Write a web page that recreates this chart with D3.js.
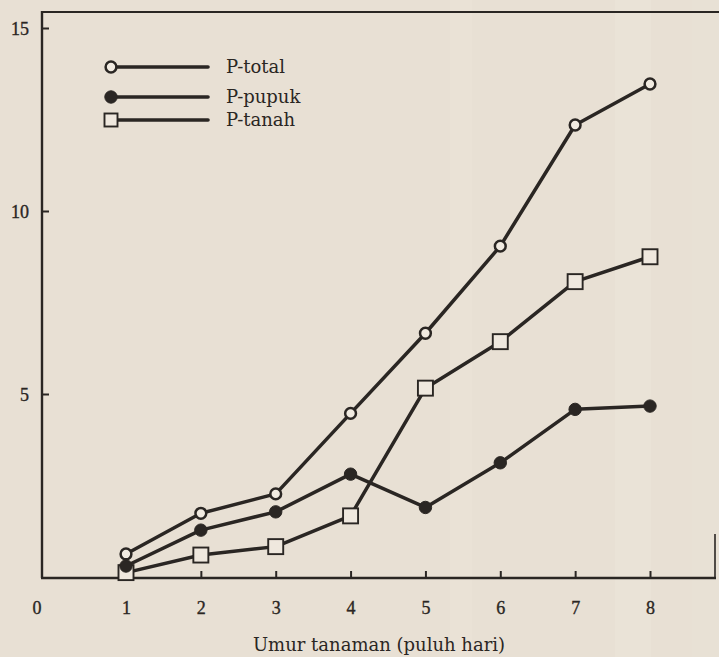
<!DOCTYPE html>
<html>
<head>
<meta charset="utf-8">
<script src="https://cdn.jsdelivr.net/npm/d3@7"></script>
<style>
  html, body { margin: 0; padding: 0; background: #e8e0d4; }
  svg { display: block; }
</style>
</head>
<body>
<svg id="chart" width="719" height="657"></svg>
<script>
// Umur tanaman (puluh hari)
const ages = [1, 2, 3, 4, 5, 6, 7, 8];
const pTotal = [0.63, 1.74, 2.27, 4.47, 6.66, 9.04, 12.35, 13.47];
const pPupuk = [0.30, 1.28, 1.78, 2.81, 1.90, 3.12, 4.58, 4.67];
const pTanah = [0.12, 0.60, 0.83, 1.67, 5.16, 6.43, 8.07, 8.75];
const xTicks = [1, 2, 3, 4, 5, 6, 7, 8];
const yTicks = [5, 10, 15];
const seriesNames = ["P-total", "P-pupuk", "P-tanah"];
const markerKinds = ["open", "filled", "square"];
const xTitle = "Umur tanaman (puluh hari)";

const ink = "#2a2623";
const paper = "#e8e0d4";
const serifTicks = "'Liberation Serif', 'Times New Roman', serif";
const serifText = "'DejaVu Serif', serif";

const svg = d3.select("#chart");
const W = 719, H = 657;

// paper tone with faint scanner banding
svg.append("rect").attr("width", W).attr("height", H).attr("fill", paper);
const bands = [[450, 22, 0.14], [615, 36, 0.16], [692, 27, 0.08]];
svg.selectAll("rect.band").data(bands).join("rect")
  .attr("class", "band")
  .attr("x", d => d[0]).attr("y", 0)
  .attr("width", d => d[1]).attr("height", H)
  .attr("fill", "#f6f0e6").attr("opacity", d => d[2]);

const axisX0 = 42, axisY0 = 578;
const x = d3.scaleLinear().domain([1, 8]).range([126, 650]);
const y = d3.scaleLinear().domain([0, 15]).range([577, 28]);

// frame: left axis, bottom axis, top rule, short right edge
const frame = svg.append("g").attr("stroke", ink).attr("fill", "none");
frame.append("line").attr("x1", axisX0).attr("x2", axisX0).attr("y1", 11).attr("y2", axisY0).attr("stroke-width", 2.4);
frame.append("line").attr("x1", axisX0 - 1).attr("x2", 716).attr("y1", axisY0).attr("y2", axisY0).attr("stroke-width", 2.4);
frame.append("line").attr("x1", axisX0).attr("x2", W).attr("y1", 12).attr("y2", 12).attr("stroke-width", 1.8);
frame.append("line").attr("x1", 715).attr("x2", 715).attr("y1", 534).attr("y2", axisY0).attr("stroke-width", 1.6);

// x axis: ticks pointing inward
const xAxis = d3.axisBottom(x).tickValues(xTicks).tickSize(-7).tickPadding(0).tickFormat(d3.format("d"));
const gx = svg.append("g").attr("transform", `translate(0,${axisY0})`).call(xAxis);
gx.select(".domain").remove();
gx.selectAll(".tick line").attr("stroke", ink).attr("stroke-width", 2);
gx.selectAll(".tick text")
  .attr("y", 36).attr("dy", 0)
  .attr("fill", ink).attr("stroke", ink).attr("stroke-width", 0.35)
  .style("font-family", serifTicks)
  .style("font-size", "18px");

// y axis: ticks pointing inward
const yAxis = d3.axisLeft(y).tickValues(yTicks).tickSize(-7).tickPadding(0).tickFormat(d3.format("d"));
const gy = svg.append("g").attr("transform", `translate(${axisX0},0)`).call(yAxis);
gy.select(".domain").remove();
gy.selectAll(".tick line").attr("stroke", ink).attr("stroke-width", 2);
gy.selectAll(".tick text")
  .attr("x", -13).attr("dy", "0.34em")
  .attr("fill", ink).attr("stroke", ink).attr("stroke-width", 0.35)
  .style("font-family", serifTicks)
  .style("font-size", "18px");

// origin label
svg.append("text")
  .attr("x", 37).attr("y", axisY0 + 36)
  .attr("text-anchor", "middle")
  .attr("fill", ink).attr("stroke", ink).attr("stroke-width", 0.35)
  .style("font-family", serifTicks)
  .style("font-size", "18px")
  .text("0");

// axis title
svg.append("text")
  .attr("x", 379).attr("y", 651)
  .attr("text-anchor", "middle")
  .attr("fill", ink)
  .style("font-family", serifText)
  .style("font-size", "18px")
  .text(xTitle);

// series lines and markers
const series = [pTotal, pPupuk, pTanah].map((vals, i) => ({
  name: seriesNames[i],
  kind: markerKinds[i],
  points: ages.map((a, j) => ({ a, v: vals[j] }))
}));

const line = d3.line().x(d => x(d.a)).y(d => y(d.v));

function drawMarker(sel, kind) {
  if (kind === "open") {
    sel.append("circle").attr("r", 5.4)
      .attr("fill", "#f1ebe1").attr("stroke", ink).attr("stroke-width", 2.5);
  } else if (kind === "filled") {
    sel.append("circle").attr("r", 6.2)
      .attr("fill", ink).attr("stroke", ink).attr("stroke-width", 1);
  } else {
    sel.append("rect").attr("x", -7.5).attr("y", -7.5).attr("width", 15).attr("height", 15)
      .attr("fill", "#efe8de").attr("stroke", ink).attr("stroke-width", 1.9);
  }
}

const gSeries = svg.append("g");
// lines first, markers on top
series.slice().reverse().forEach(s => {
  gSeries.append("path")
    .datum(s.points)
    .attr("d", line)
    .attr("fill", "none")
    .attr("stroke", ink)
    .attr("stroke-width", 3.5)
    .attr("stroke-linejoin", "round");
});
series.slice().reverse().forEach(s => {
  gSeries.append("g").selectAll("g")
    .data(s.points).join("g")
    .attr("transform", d => `translate(${x(d.a)},${y(d.v)})`)
    .each(function () { drawMarker(d3.select(this), s.kind); });
});

// legend
const legendY = [67, 97, 120];
const legend = svg.append("g");
series.forEach((s, i) => {
  const g = legend.append("g").attr("transform", `translate(0,${legendY[i]})`);
  g.append("line").attr("x1", 111).attr("x2", 208).attr("y1", 0).attr("y2", 0)
    .attr("stroke", ink).attr("stroke-width", 3.6).attr("stroke-linecap", "round");
  const m = g.append("g").attr("transform", "translate(111,0)");
  drawMarker(m, s.kind);
  if (s.kind === "square") m.select("rect").attr("x", -6.5).attr("y", -6.5).attr("width", 13).attr("height", 13);
  g.append("text")
    .attr("x", 226).attr("y", 6)
    .attr("fill", ink)
    .style("font-family", serifText)
    .style("font-size", "18px")
    .text(s.name);
});
</script>
</body>
</html>
